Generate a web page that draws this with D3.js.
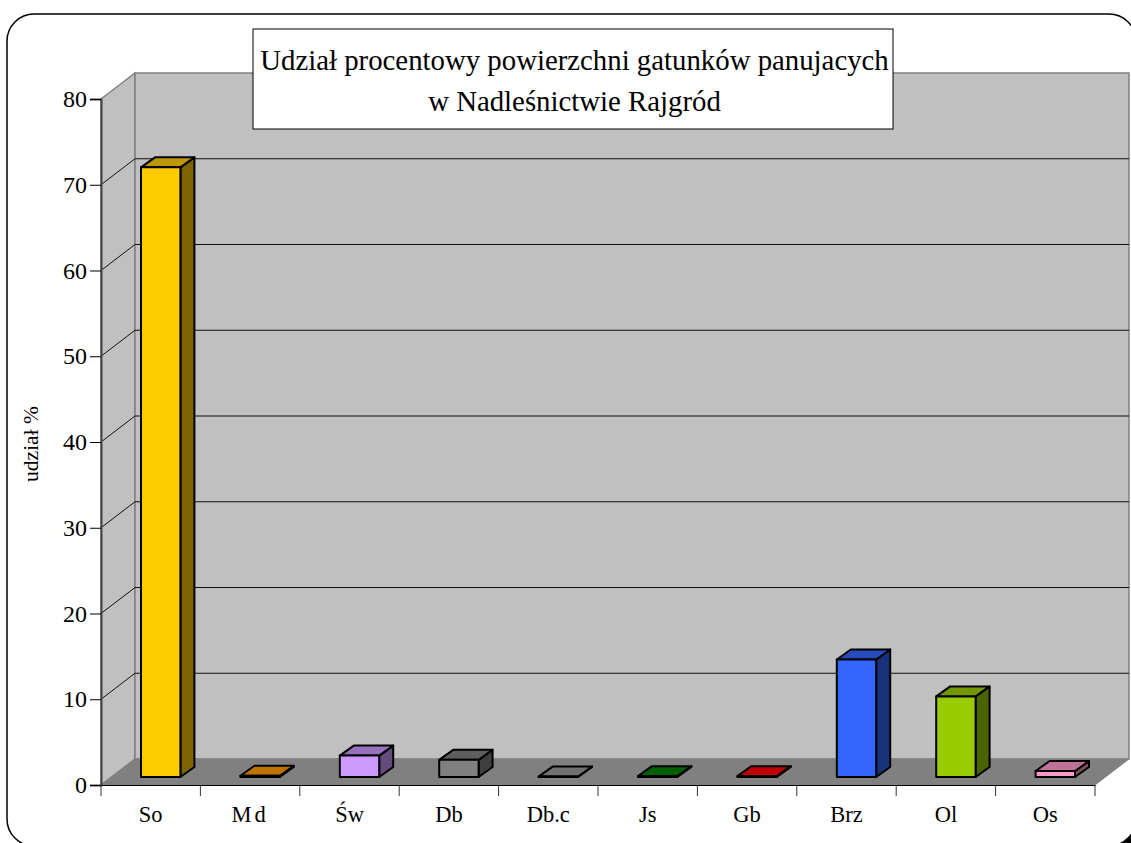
<!DOCTYPE html>
<html>
<head>
<meta charset="utf-8">
<script src="https://cdn.jsdelivr.net/npm/d3@7"></script>
<style>
html, body { margin: 0; padding: 0; background: #fff; overflow: hidden; }
text { font-family: "Liberation Serif", serif; fill: #000; }
</style>
</head>
<body>
<div id="chart"></div>
<script>
// dane
const gatunki = ["So", "Md", "Św", "Db", "Db.c", "Js", "Gb", "Brz", "Ol", "Os"];
const udzial = [71.1, 0.15, 2.5, 2.0, 0.05, 0.1, 0.1, 13.7, 9.4, 0.7];
const kolorFront = ["#ffcc00", "#ff9900", "#cc99ff", "#808080", "#969696", "#008000", "#ff0000", "#3366ff", "#99cc00", "#ff99cc"];
const yTicks = [0, 10, 20, 30, 40, 50, 60, 70, 80];
const tytul = ["Udział procentowy powierzchni gatunków panujacych", "w Nadleśnictwie Rajgród"];

const width = 1131, height = 843;
const depth = {x: 34, y: -26};
const plotLeft = 101, plotRight = 1095, plotTop = 99, plotBottom = 785;

const svg = d3.select("#chart").append("svg")
    .attr("width", width)
    .attr("height", height)
    .style("display", "block");

const x = d3.scaleBand().domain(gatunki).range([plotLeft, plotRight]).padding(0);
const y = d3.scaleLinear().domain([0, 80]).range([plotBottom, plotTop]);
const line = d3.line();

// cien i ramka
svg.append("rect")
    .attr("x", 13).attr("y", 20)
    .attr("width", 1129).attr("height", 832)
    .attr("rx", 27).attr("ry", 27)
    .attr("fill", "#000");
svg.append("rect")
    .attr("x", 7).attr("y", 14)
    .attr("width", 1129).attr("height", 832)
    .attr("rx", 27).attr("ry", 27)
    .attr("fill", "#fff")
    .attr("stroke", "#000")
    .attr("stroke-width", 1.5);

// sciany
const y0 = y(0), yMax = y(80);
svg.append("path")
    .attr("d", line([[plotLeft, y0], [plotLeft, yMax], [plotLeft + depth.x, yMax + depth.y], [plotLeft + depth.x, y0 + depth.y]]) + "Z")
    .attr("fill", "#c0c0c0").attr("stroke", "#808080").attr("stroke-width", 1.5);
svg.append("path")
    .attr("d", line([[plotLeft + depth.x, y0 + depth.y], [plotLeft + depth.x, yMax + depth.y], [plotRight + depth.x, yMax + depth.y], [plotRight + depth.x, y0 + depth.y]]) + "Z")
    .attr("fill", "#c0c0c0").attr("stroke", "#808080").attr("stroke-width", 1.5);

// siatka
svg.append("g").selectAll("path")
    .data(yTicks.slice(1, -1))
    .enter().append("path")
    .attr("d", d => line([[plotLeft, y(d)], [plotLeft + depth.x, y(d) + depth.y], [plotRight + depth.x, y(d) + depth.y]]))
    .attr("fill", "none")
    .attr("stroke", "#111")
    .attr("stroke-width", 1);

// podloga
svg.append("path")
    .attr("d", line([[plotLeft, y0], [plotLeft + depth.x, y0 + depth.y], [plotRight + depth.x, y0 + depth.y], [plotRight, y0]]) + "Z")
    .attr("fill", "#808080").attr("stroke", "#808080").attr("stroke-width", 1);

// slupki 3D
const barInset = 40, barDepth = {x: 14, y: -10}, barShift = -8;
const bars = svg.append("g").selectAll("g")
    .data(gatunki.map((g, i) => ({g, v: udzial[i], c: kolorFront[i]})))
    .enter().append("g")
    .attr("stroke", "#000")
    .attr("stroke-width", 2)
    .attr("stroke-linejoin", "round");

const bx0 = d => x(d.g) + barInset;
const bx1 = d => x(d.g) + x.bandwidth() - 20;
const by0 = () => y(0) + barShift;
const by1 = d => y(d.v) + barShift;

bars.append("path") // bok
    .attr("d", d => line([[bx1(d), by0()], [bx1(d) + barDepth.x, by0() + barDepth.y], [bx1(d) + barDepth.x, by1(d) + barDepth.y], [bx1(d), by1(d)]]) + "Z")
    .attr("fill", d => d3.rgb(d.c).darker(2).formatHex());
bars.append("path") // gora
    .attr("d", d => line([[bx0(d), by1(d)], [bx0(d) + barDepth.x, by1(d) + barDepth.y], [bx1(d) + barDepth.x, by1(d) + barDepth.y], [bx1(d), by1(d)]]) + "Z")
    .attr("fill", d => d3.rgb(d.c).darker(0.83).formatHex());
bars.append("path") // front
    .attr("d", d => line([[bx0(d), by0()], [bx0(d), by1(d)], [bx1(d), by1(d)], [bx1(d), by0()]]) + "Z")
    .attr("fill", d => d.c);

// osie
const axisY = svg.append("g")
    .attr("transform", `translate(${plotLeft},0)`)
    .call(d3.axisLeft(y).tickValues(yTicks).tickSize(11).tickPadding(3));
const axisX = svg.append("g")
    .attr("transform", `translate(0,${plotBottom})`)
    .call(d3.axisBottom(x).tickSize(0).tickPadding(21));

axisY.selectAll("text").style("font-size", "24px").style("font-family", "Liberation Serif");
axisY.selectAll("line").attr("stroke", "#000").attr("stroke-width", 1);
axisY.select(".domain").attr("stroke", "#444").attr("stroke-width", 2);
axisX.selectAll("text").style("font-size", "22.5px").style("font-family", "Liberation Serif")
    .style("letter-spacing", d => d == "Md" ? "3px" : null);
axisX.select(".domain").attr("stroke", "#000").attr("stroke-width", 1);

// kreski miedzy kategoriami
svg.append("g").selectAll("line")
    .data(gatunki.map(g => x(g)).concat(plotRight))
    .enter().append("line")
    .attr("x1", d => d).attr("x2", d => d)
    .attr("y1", plotBottom).attr("y2", plotBottom + 11)
    .attr("stroke", "#333");

// os Y opis
svg.append("text")
    .attr("transform", "translate(38,444) rotate(-90)")
    .attr("text-anchor", "middle")
    .style("font-size", "21.5px")
    .text("udział %");

// tytul
svg.append("rect")
    .attr("x", 253).attr("y", 29)
    .attr("width", 640).attr("height", 100)
    .attr("fill", "#fff")
    .attr("stroke", "#000")
    .attr("stroke-width", 1);
svg.append("g").selectAll("text")
    .data(tytul)
    .enter().append("text")
    .attr("x", 574.5)
    .attr("y", (d, i) => 70 + i * 41)
    .attr("text-anchor", "middle")
    .style("font-size", "28.8px")
    .text(d => d);
</script>
</body>
</html>
